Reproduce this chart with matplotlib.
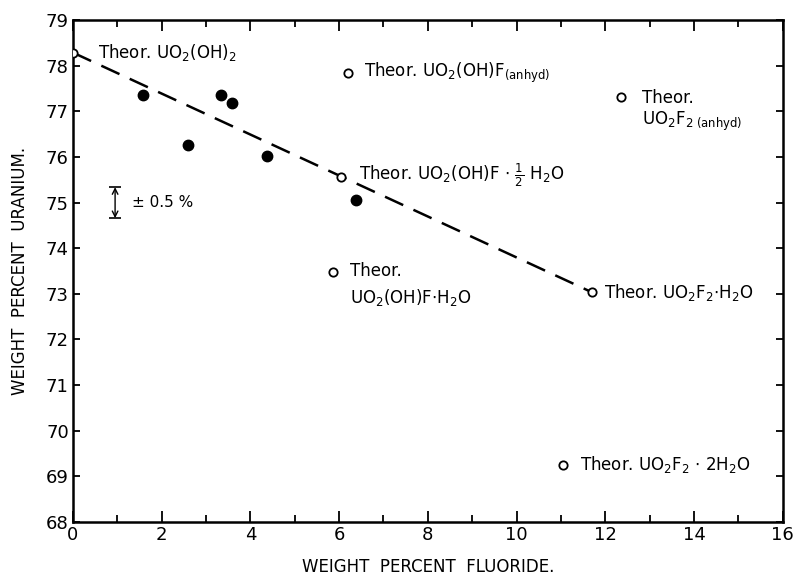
import matplotlib
matplotlib.use("Agg")
import matplotlib.pyplot as plt
from matplotlib.ticker import MultipleLocator

plt.rcParams['mathtext.default'] = 'regular'
plt.rcParams['font.family'] = ['DejaVu Sans']

# Experimental points (filled)
exp_f = [1.58, 2.60, 3.33, 3.59, 4.38, 6.37]
exp_u = [77.36, 76.27, 77.36, 77.18, 76.03, 75.06]

# Theoretical compositions (open circles)
theo_names = ["UO2(OH)2", "UO2(OH)F anhyd", "UO2F2 anhyd", "UO2(OH)F.1/2H2O",
              "UO2(OH)F.H2O", "UO2F2.H2O", "UO2F2.2H2O"]
theo_f = [0.0, 6.21, 12.36, 6.05, 5.86, 11.69, 11.04]
theo_u = [78.29, 77.85, 77.32, 75.57, 73.48, 73.04, 69.25]

# Dashed trend line endpoints (UO2(OH)2 -> UO2F2.H2O)
line_f = [0.0, 11.69]
line_u = [78.29, 73.04]

fig = plt.figure(figsize=(7.93, 5.78), dpi=100)
ax = fig.add_axes([0.092, 0.097, 0.895, 0.868])

ax.plot(line_f, line_u, color='black', lw=1.8, dashes=(8, 4.5), zorder=1)
ax.plot(exp_f, exp_u, 'o', color='black', ms=7.5, zorder=3)
ax.plot(theo_f, theo_u, 'o', mfc='white', mec='black', mew=1.3, ms=6, zorder=4)

fs = 12
ax.text(0.56, 78.3, "Theor. UO$_2$(OH)$_2$", fontsize=fs, va='center', ha='left')
ax.text(6.55, 77.85, "Theor. UO$_2$(OH)F$_{(anhyd)}$", fontsize=fs, va='center', ha='left')
ax.text(12.82, 77.3, "Theor.", fontsize=fs, va='center', ha='left')
ax.text(12.82, 76.78, "UO$_2$F$_{2\\ (anhyd)}$", fontsize=fs, va='center', ha='left')
ax.text(6.45, 75.6, "Theor. UO$_2$(OH)F $\\cdot$ $\\frac{1}{2}$ H$_2$O", fontsize=fs,
        va='center', ha='left')
ax.text(6.25, 73.5, "Theor.", fontsize=fs, va='center', ha='left')
ax.text(6.25, 72.93, "UO$_2$(OH)F$\\cdot$H$_2$O", fontsize=fs, va='center', ha='left')
ax.text(11.98, 73.04, "Theor. UO$_2$F$_2$$\\cdot$H$_2$O", fontsize=fs, va='center', ha='left')
ax.text(11.42, 69.25, "Theor. UO$_2$F$_2$ $\\cdot$ 2H$_2$O", fontsize=fs, va='center', ha='left')

# +/- 0.5 % indicator
ax.annotate("", xy=(0.95, 74.66), xytext=(0.95, 75.34),
            arrowprops=dict(arrowstyle='<->', color='black', lw=1.0,
                            shrinkA=0, shrinkB=0, mutation_scale=10))
ax.errorbar([0.95], [75.0], yerr=[0.34], fmt='none', ecolor='black',
            elinewidth=0, capsize=4, capthick=1.2)
ax.text(1.32, 75.0, "± 0.5 %", fontsize=11, va='center', ha='left')

ax.set_xlim(0, 16)
ax.set_ylim(68, 79)
ax.xaxis.set_major_locator(MultipleLocator(2))
ax.xaxis.set_minor_locator(MultipleLocator(1))
ax.yaxis.set_major_locator(MultipleLocator(1))
ax.tick_params(which='both', direction='in', top=True, right=True, width=1.3,
               labelsize=13, pad=3)
ax.tick_params(which='major', axis='x', length=8)
ax.tick_params(which='minor', axis='x', length=5)
ax.tick_params(which='major', axis='y', length=5)
for s in ax.spines.values():
    s.set_linewidth(1.8)

ax.set_xlabel("WEIGHT  PERCENT  FLUORIDE.", fontsize=12, labelpad=10)
ax.set_ylabel("WEIGHT  PERCENT  URANIUM.", fontsize=12, labelpad=12)

fig.savefig("out.png", dpi=100)
